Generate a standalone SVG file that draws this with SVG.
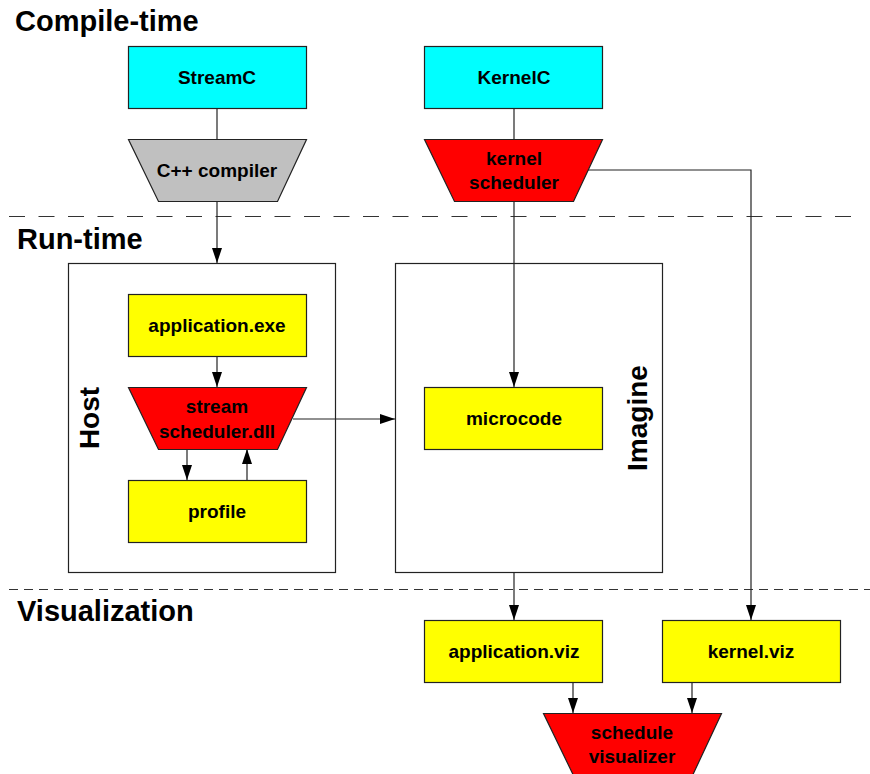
<svg xmlns="http://www.w3.org/2000/svg" width="870" height="774" viewBox="0 0 870 774">
<defs>
<marker id="ah" markerWidth="15" markerHeight="10" refX="15" refY="5" orient="auto" markerUnits="userSpaceOnUse">
<path d="M0,0 L15,5 L0,10 Z" fill="#000"/>
</marker>
<style>
.t{font-family:"Liberation Sans",Arial,sans-serif;font-weight:bold;fill:#000;text-anchor:middle}
.n{font-size:19px}
.h{font-size:29px;text-anchor:start}
.r{font-size:28px}
.cy{fill:#00ffff;stroke:#222;stroke-width:1.2}
.ye{fill:#ffff00;stroke:#222;stroke-width:1.2}
.rd{fill:#ff0000;stroke:#222;stroke-width:1.2}
.gy{fill:#c0c0c0;stroke:#222;stroke-width:1.2}
.bx{fill:none;stroke:#222;stroke-width:1.2}
.c{fill:none;stroke:#222;stroke-width:1.2}
.ca{fill:none;stroke:#222;stroke-width:1.2;marker-end:url(#ah)}
</style>
</defs>
<rect width="870" height="774" fill="#fff"/>

<g id="separators">
<line x1="9" y1="216.5" x2="862" y2="216.5" stroke="#333" stroke-width="1.2" stroke-dasharray="16,13.5"/>
<line x1="9" y1="589.5" x2="870" y2="589.5" stroke="#333" stroke-width="1.2" stroke-dasharray="9,6"/>
</g>

<g id="headings">
<text class="t h" x="15" y="31">Compile-time</text>
<text class="t h" x="17" y="249">Run-time</text>
<text class="t h" x="17" y="621">Visualization</text>
</g>

<g id="host">
<rect class="bx" x="68.5" y="263.5" width="267" height="309"/>
<text class="t r" transform="translate(99,418) rotate(-90)">Host</text>
</g>
<g id="imagine">
<rect class="bx" x="395.5" y="263.5" width="267" height="309"/>
<text class="t r" transform="translate(647,418) rotate(-90)">Imagine</text>
</g>

<g id="connectors">
<line class="c" x1="217" y1="108" x2="217" y2="139"/>
<line class="ca" x1="217" y1="201" x2="217" y2="263"/>
<line class="c" x1="514" y1="108" x2="514" y2="139"/>
<line class="ca" x1="514" y1="201" x2="514" y2="387"/>
<polyline class="ca" points="588,170 751,170 751,620"/>
<line class="ca" x1="217" y1="356" x2="217" y2="387"/>
<line class="ca" x1="187" y1="449" x2="187" y2="480"/>
<line class="ca" x1="247" y1="480" x2="247" y2="449"/>
<line class="ca" x1="293" y1="419" x2="395" y2="419"/>
<line class="ca" x1="514" y1="573" x2="514" y2="620"/>
<line class="ca" x1="573" y1="682" x2="573" y2="713"/>
<line class="ca" x1="692" y1="682" x2="692" y2="713"/>
</g>

<g id="streamc">
<rect class="cy" x="128.5" y="46.5" width="178" height="62"/>
<text class="t n" x="217" y="84">StreamC</text>
</g>
<g id="cpp-compiler">
<polygon class="gy" points="128.5,139.5 306.5,139.5 277.5,201.5 158.5,201.5"/>
<text class="t n" x="217" y="177">C++ compiler</text>
</g>
<g id="kernelc">
<rect class="cy" x="424.5" y="46.5" width="178" height="62"/>
<text class="t n" x="514" y="84">KernelC</text>
</g>
<g id="kernel-scheduler">
<polygon class="rd" points="424.5,139.5 602.5,139.5 573.5,201.5 454.5,201.5"/>
<text class="t n" x="514" y="165">kernel</text>
<text class="t n" x="514" y="189">scheduler</text>
</g>
<g id="application-exe">
<rect class="ye" x="128.5" y="294.5" width="178" height="62"/>
<text class="t n" x="217" y="332">application.exe</text>
</g>
<g id="stream-scheduler">
<polygon class="rd" points="128.5,387.5 306.5,387.5 277.5,449.5 158.5,449.5"/>
<text class="t n" x="217" y="413">stream</text>
<text class="t n" x="217" y="438">scheduler.dll</text>
</g>
<g id="profile">
<rect class="ye" x="128.5" y="480.5" width="178" height="62"/>
<text class="t n" x="217" y="518">profile</text>
</g>
<g id="microcode">
<rect class="ye" x="424.5" y="387.5" width="178" height="62"/>
<text class="t n" x="514" y="425">microcode</text>
</g>
<g id="application-viz">
<rect class="ye" x="424.5" y="620.5" width="178" height="62"/>
<text class="t n" x="514" y="658">application.viz</text>
</g>
<g id="kernel-viz">
<rect class="ye" x="662.5" y="620.5" width="178" height="62"/>
<text class="t n" x="751" y="658">kernel.viz</text>
</g>
<g id="schedule-visualizer">
<polygon class="rd" points="543.5,713.5 721.5,713.5 692.5,775.5 573.5,775.5"/>
<text class="t n" x="632" y="739">schedule</text>
<text class="t n" x="632" y="763">visualizer</text>
</g>
</svg>
